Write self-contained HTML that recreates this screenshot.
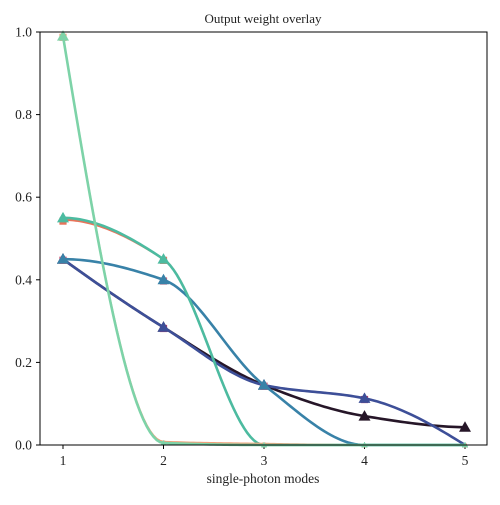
<!DOCTYPE html>
<html><head><meta charset="utf-8"><style>
body{margin:0;background:#fff;font-family:"Liberation Serif","DejaVu Serif",serif;}
text{font-family:"Liberation Serif","DejaVu Serif",serif;fill:#222;}
</style></head><body>
<svg id="chart" width="500" height="500" xmlns="http://www.w3.org/2000/svg">
<rect width="500" height="500" fill="#fff"/>
<text x="263" y="23" font-size="13" text-anchor="middle">Output weight overlay</text>
<text x="263" y="483" font-size="13.5" text-anchor="middle">single-photon modes</text>
<g id="axes"></g><g id="series"></g>
<rect x="40" y="32" width="447" height="413" fill="none" stroke="#000" stroke-width="1"/>
</svg>
<script>
const categories=[1,2,3,4,5];
const xTicks=[1,2,3,4,5];
const yTicks=[0.0,0.2,0.4,0.6,0.8,1.0];
const serDark=[0.45,0.285,0.145,0.07,0.043];
const serBlue=[0.45,0.285,0.145,0.113,0.0];
const serSteel=[0.45,0.40,0.145,0.0,0.0];
const serTeal=[0.55,0.45,0.0,0.0,0.0];
const serTealSq=[0.545,0.45,0.0,0.0,0.0];
const serMint=[0.99,0.005,0.0,0.0,0.0];
const serMintSq=[0.99,0.008,0.003,0.0,0.0];
const seriesList=[
 {name:'series-dark',vals:serDark,color:'#261628',m:'tri'},
 {name:'series-blue-under',vals:serBlue,color:'#b03a6a',m:'sq'},
 {name:'series-blue',vals:serBlue,color:'#3d4f98',m:'tri'},
 {name:'series-steel-square',vals:serSteel,color:'#d0607a',m:'sq'},
 {name:'series-steel',vals:serSteel,color:'#3882a8',m:'tri'},
 {name:'series-teal-square',vals:serTealSq,color:'#e8735a',m:'sq'},
 {name:'series-teal',vals:serTeal,color:'#4cbba0',m:'tri'},
 {name:'series-mint-square',vals:serMintSq,color:'#f0a07a',m:'sq'},
 {name:'series-mint',vals:serMint,color:'#7dd3a8',m:'tri'}
];
const X=v=>63+(v-1)*100.5;
const Y=v=>445-v*413;
const NS='http://www.w3.org/2000/svg';
const axes=document.getElementById('axes'),sg=document.getElementById('series');
function mk(t,a,p){const e=document.createElementNS(NS,t);for(const k in a)e.setAttribute(k,a[k]);p.appendChild(e);return e;}
xTicks.forEach(t=>{
 const l=mk('line',{x1:X(t),x2:X(t),y1:445,y2:449,stroke:'#000'},axes);
 
 
 const tx=mk('text',{x:X(t),y:465,'font-size':13.5,'text-anchor':'middle'},axes);tx.textContent=t;
 
 
});
yTicks.forEach(t=>{
 const l=mk('line',{x1:36,x2:40,y1:Y(t),y2:Y(t),stroke:'#000'},axes);
 
 
 const tx=mk('text',{x:32,y:Y(t)+4.5,'font-size':13.5,'text-anchor':'end'},axes);tx.textContent=t.toFixed(1);
 
 
});
function pchip(xs,ys){
 const n=xs.length,h=[],d=[],m=new Array(n);
 for(let i=0;i<n-1;i++){h[i]=xs[i+1]-xs[i];d[i]=(ys[i+1]-ys[i])/h[i];}
 for(let i=1;i<n-1;i++){
  if(d[i-1]*d[i]<=0)m[i]=0;else{const w1=2*h[i]+h[i-1],w2=h[i]+2*h[i-1];m[i]=(w1+w2)/(w1/d[i-1]+w2/d[i]);}
 }
 function ed(h0,h1,d0,d1){let s=((2*h0+h1)*d0-h0*d1)/(h0+h1);if(Math.sign(s)!==Math.sign(d0))s=0;else if(Math.sign(d0)!==Math.sign(d1)&&Math.abs(s)>Math.abs(3*d0))s=3*d0;return s;}
 m[0]=ed(h[0],h[1],d[0],d[1]);m[n-1]=ed(h[n-2],h[n-3],d[n-2],d[n-3]);
 const pts=[];
 for(let i=0;i<n-1;i++)for(let k=0;k<=30;k++){
  const t=k/30,t2=t*t,t3=t2*t;
  const y=(2*t3-3*t2+1)*ys[i]+(t3-2*t2+t)*h[i]*m[i]+(-2*t3+3*t2)*ys[i+1]+(t3-t2)*h[i]*m[i+1];
  pts.push([X(xs[i]+t*h[i]),Y(y)]);
 }
 return pts;
}
seriesList.forEach(s=>{
 const g=mk('g',{},sg);
 
 
 const pts=pchip(categories,s.vals);
 const p=mk('path',{d:'M'+pts.map(q=>q[0].toFixed(2)+','+q[1].toFixed(2)).join('L'),fill:'none',stroke:s.color,'stroke-width':s.m==='sq'?2:2.6},g);
 
 
 categories.forEach((c,i)=>{
  const x=X(c),y=Y(s.vals[i]);
  const r=s.vals[i]<0.02?3:6;
  let e;
  if(s.m==='sq')e=mk('rect',{x:x-r*0.6,y:y-r*0.4,width:r*1.2,height:r*1.2,fill:s.color},g);
  else e=mk('polygon',{points:`${x},${y-r} ${x-r},${y+r*0.75} ${x+r},${y+r*0.75}`,fill:s.color},g);
  
  
 });
});
</script>
</body></html>
